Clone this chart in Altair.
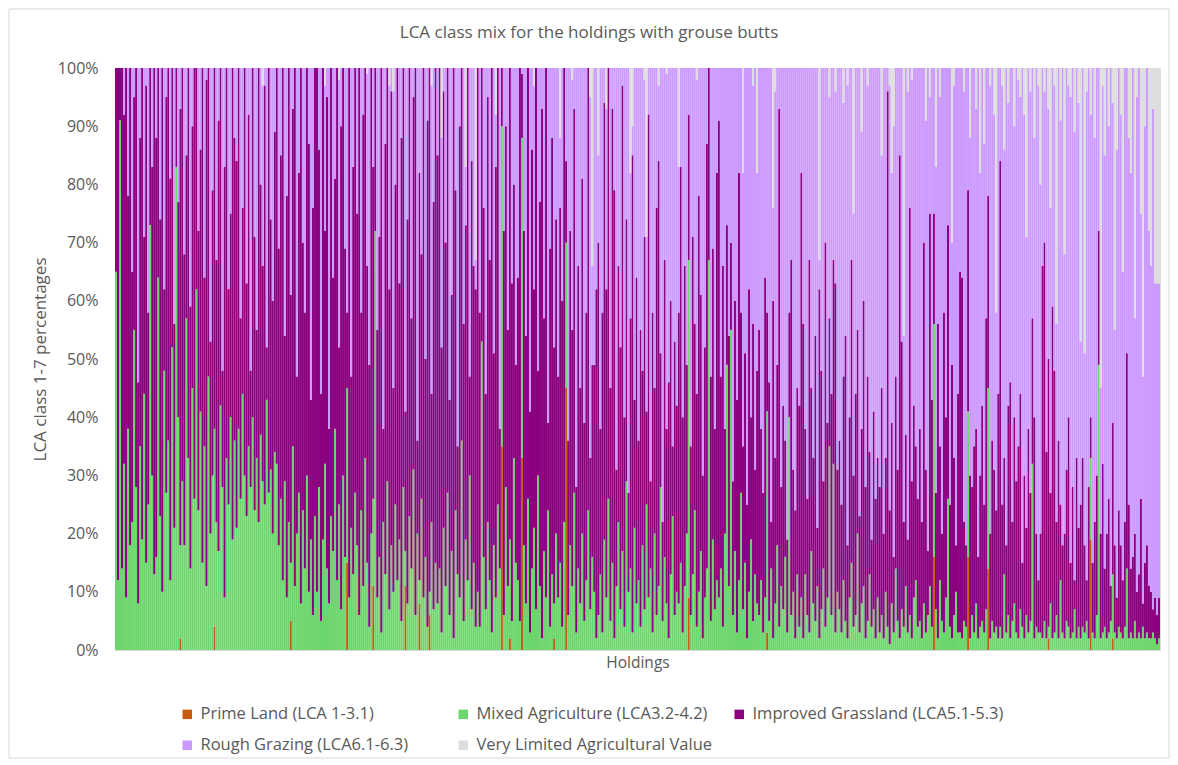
import altair as alt
import pandas as pd

classes = [
    "Prime Land (LCA 1-3.1)",
    "Mixed Agriculture (LCA3.2-4.2)",
    "Improved Grassland (LCA5.1-5.3)",
    "Rough Grazing (LCA6.1-6.3)",
    "Very Limited Agricultural Value",
]
colors = ["#C55A11", "#6CD66C", "#8B007F", "#CC99FF", "#DDDDDD"]
title_text = "LCA class mix for the holdings with grouse butts"

# cumulative top (in %) of Prime+Mixed (green band top), one value per holding
mixed_top = [
    65, 12, 91, 14, 32, 9, 38, 18, 22, 55, 28, 8, 35, 19, 44, 15, 25, 73, 30, 13,
    16, 64, 23, 10, 48, 27, 36, 12, 52, 21, 83, 40, 18, 29, 18, 57, 33, 14, 45, 26,
    62, 24, 41, 15, 35, 11, 47, 20, 30, 38, 22, 17, 42, 28, 9, 33, 25, 40, 19, 36,
    21, 38, 26, 44, 30, 23, 35, 28, 40, 24, 33, 22, 37, 29, 25, 43, 27, 31, 20, 34,
    32, 18, 26, 12, 29, 9, 22, 15, 35, 11, 20, 27, 8, 24, 14, 30, 10, 19, 6, 23,
    10, 28, 5, 19, 32, 14, 8, 23, 17, 38, 12, 25, 7, 30, 16, 45, 9, 21, 13, 27,
    18, 6, 24, 11, 33, 15, 4, 20, 26, 72, 9, 16, 3, 22, 13, 29, 7, 18, 10, 25,
    12, 19, 5, 28, 17, 8, 23, 14, 31, 6, 20, 12, 26, 9, 16, 4, 10, 22, 7, 15,
    8, 14, 3, 21, 11, 27, 6, 17, 2, 24, 13, 9, 36, 5, 19, 12, 30, 7, 15, 4,
    10, 4, 53, 16, 7, 22, 12, 3, 18, 9, 25, 14, 90, 6, 28, 11, 19, 5, 33, 15,
    12, 5, 88, 18, 8, 26, 3, 14, 21, 7, 30, 11, 2, 17, 9, 24, 4, 13, 8, 20,
    9, 15, 4, 22, 70, 6, 18, 11, 27, 3, 14, 8, 20, 5, 12, 24, 7, 16, 10, 2,
    6, 13, 3, 19, 9, 26, 5, 15, 2, 11, 22, 7, 17, 4, 29, 10, 14, 3, 21, 8,
    12, 4, 18, 7, 25, 9, 14, 3, 20, 6, 11, 28, 5, 16, 8, 2, 13, 23, 6, 10,
    8, 15, 3, 11, 20, 67, 6, 13, 24, 4, 10, 17, 2, 9, 14, 67, 5, 19, 7, 12,
    9, 14, 4, 20, 49, 11, 55, 6, 17, 3, 12, 27, 7, 15, 2, 10, 19, 5, 13, 8,
    6, 12, 3, 9, 41, 5, 14, 2, 8, 18, 4, 11, 7, 16, 3, 40, 6, 10, 2, 13,
    4, 9, 2, 13, 6, 3, 17, 8, 5, 11, 2, 7, 14, 4, 9, 35, 6, 32, 3, 10,
    7, 3, 12, 5, 2, 9, 15, 4, 6, 20, 3, 8, 11, 2, 5, 13, 4, 7, 2, 9,
    3, 6, 2, 10, 4, 1, 8, 3, 14, 5, 2, 7, 4, 11, 3, 6, 2, 9, 12, 4,
    5, 2, 8, 3, 6, 11, 4, 56, 7, 2, 12, 5, 3, 9, 26, 4, 2, 6, 10, 3,
    3, 2, 5, 4, 41, 2, 6, 3, 8, 2, 4, 5, 3, 7, 45, 2, 5, 3, 4, 2,
    4, 2, 13, 3, 6, 2, 5, 8, 3, 2, 7, 4, 2, 6, 3, 5, 32, 2, 4, 3,
    3, 2, 5, 2, 4, 8, 2, 3, 6, 2, 12, 3, 2, 5, 4, 2, 3, 7, 2, 4,
    2, 4, 3, 5, 2, 33, 3, 2, 6, 49, 2, 3, 4, 2, 3, 5, 13, 3, 2, 4,
    3, 2, 4, 14, 2, 3, 2, 5, 2, 3, 2, 4, 2, 3, 2, 2, 3, 2, 1, 2,
]

# cumulative top (in %) of Improved Grassland (purple band top)
improved_top = [
    100, 100, 100, 100, 92, 100, 78, 100, 65, 95, 100, 46, 88, 100, 71, 97, 58, 100, 83, 100,
    88, 100, 74, 100, 62, 95, 100, 81, 100, 56, 100, 77, 93, 100, 68, 85, 100, 59, 90, 100,
    100, 72, 86, 100, 64, 98, 100, 53, 79, 100, 67, 91, 100, 48, 83, 100, 62, 75, 100, 88,
    84, 100, 57, 76, 100, 63, 92, 48, 100, 71, 55, 100, 80, 66, 97, 52, 100, 74, 60, 89,
    100, 69, 85, 100, 54, 78, 100, 61, 93, 100, 47, 82, 100, 70, 58, 100, 87, 43, 76, 100,
    100, 86, 44, 100, 72, 95, 38, 100, 64, 81, 100, 52, 90, 100, 69, 58, 100, 47, 83, 100,
    75, 100, 58, 92, 100, 66, 49, 100, 83, 100, 55, 71, 100, 38, 87, 100, 62, 96, 45, 80,
    100, 63, 88, 100, 41, 74, 100, 57, 95, 100, 36, 82, 68, 100, 50, 91, 100, 44, 77, 100,
    85, 100, 52, 96, 70, 100, 43, 61, 100, 79, 35, 90, 100, 56, 73, 100, 47, 84, 66, 62,
    100, 58, 100, 76, 44, 95, 67, 100, 51, 83, 100, 38, 100, 72, 90, 55, 100, 63, 80, 49,
    64, 100, 99, 72, 54, 100, 41, 86, 62, 100, 48, 77, 93, 57, 100, 39, 69, 88, 52, 74,
    47, 76, 60, 100, 84, 36, 72, 55, 93, 28, 66, 45, 81, 39, 58, 100, 33, 49, 49, 62,
    70, 38, 58, 94, 62, 100, 45, 93, 79, 31, 66, 52, 97, 40, 74, 27, 57, 85, 43, 64,
    36, 55, 48, 71, 41, 92, 29, 58, 45, 76, 84, 51, 22, 67, 38, 46, 60, 35, 53, 42,
    58, 83, 40, 66, 49, 92, 35, 71, 56, 44, 78, 61, 30, 52, 87, 100, 47, 69, 38, 82,
    91, 47, 66, 38, 73, 54, 70, 29, 60, 43, 82, 58, 35, 51, 25, 62, 40, 56, 31, 48,
    55, 38, 27, 64, 58, 46, 22, 60, 33, 49, 93, 28, 42, 36, 19, 58, 67, 31, 24, 45,
    42, 82, 56, 38, 26, 67, 45, 33, 54, 21, 62, 48, 29, 70, 39, 57, 44, 67, 63, 31,
    36, 25, 47, 54, 18, 40, 67, 30, 44, 55, 23, 38, 60, 28, 47, 34, 19, 41, 26, 33,
    28, 45, 20, 33, 96, 24, 39, 16, 47, 31, 85, 53, 22, 37, 19, 76, 29, 42, 35, 26,
    38, 22, 70, 31, 17, 75, 43, 75, 27, 56, 35, 20, 58, 40, 73, 25, 49, 33, 18, 44,
    65, 64, 22, 18, 79, 30, 28, 35, 38, 16, 30, 42, 25, 57, 78, 20, 36, 31, 24, 44,
    84, 25, 33, 18, 42, 46, 22, 40, 29, 35, 44, 15, 30, 21, 38, 27, 57, 40, 20, 12,
    20, 66, 70, 34, 50, 27, 59, 48, 22, 36, 25, 18, 20, 31, 40, 15, 28, 12, 33, 21,
    25, 33, 18, 12, 28, 40, 15, 22, 30, 72, 20, 32, 14, 20, 26, 11, 39, 18, 9, 24,
    18, 12, 22, 51, 25, 14, 16, 20, 10, 13, 26, 8, 15, 18, 11, 10, 7, 9, 6, 9,
]

# cumulative top (in %) of Rough Grazing (lavender band top); the rest is Very Limited
rough_top = [
    100, 100, 100, 100, 100, 100, 100, 100, 100, 100, 100, 100, 100, 100, 100, 100, 100, 100, 100, 100,
    100, 100, 100, 100, 100, 100, 100, 100, 100, 100, 100, 100, 100, 100, 100, 100, 100, 100, 100, 100,
    100, 100, 100, 100, 100, 100, 100, 100, 100, 100, 100, 100, 100, 100, 100, 100, 100, 100, 100, 100,
    100, 100, 100, 100, 100, 100, 100, 100, 100, 100, 100, 100, 100, 97, 100, 100, 100, 100, 100, 100,
    100, 100, 100, 100, 100, 100, 100, 100, 100, 100, 100, 100, 100, 100, 100, 100, 100, 100, 100, 100,
    100, 100, 100, 100, 97, 100, 100, 100, 100, 100, 100, 98, 100, 100, 100, 100, 100, 100, 100, 100,
    100, 100, 100, 100, 100, 99, 100, 100, 100, 100, 100, 100, 100, 100, 100, 100, 97, 100, 96, 100,
    100, 100, 100, 100, 100, 100, 100, 100, 100, 100, 100, 100, 100, 100, 100, 100, 100, 97, 100, 100,
    100, 100, 88, 100, 100, 100, 100, 100, 100, 100, 100, 100, 100, 100, 83, 100, 100, 100, 100, 67,
    100, 100, 100, 100, 100, 100, 100, 100, 100, 92, 100, 100, 100, 100, 100, 100, 100, 100, 100, 100,
    100, 100, 100, 100, 100, 100, 100, 100, 97, 100, 100, 100, 100, 100, 100, 100, 100, 100, 100, 100,
    100, 88, 100, 100, 100, 100, 100, 98, 100, 100, 100, 100, 100, 100, 100, 100, 95, 66, 100, 100,
    85, 100, 100, 100, 93, 100, 100, 100, 100, 100, 100, 100, 100, 100, 100, 100, 82, 90, 100, 100,
    100, 100, 100, 98, 71, 100, 100, 100, 100, 100, 97, 100, 100, 100, 99, 100, 100, 100, 100, 100,
    83, 100, 100, 100, 100, 100, 100, 100, 100, 98, 100, 100, 100, 100, 100, 100, 100, 100, 100, 100,
    100, 100, 100, 100, 100, 100, 100, 100, 100, 100, 100, 100, 82, 100, 100, 100, 100, 97, 100, 82,
    100, 100, 100, 100, 100, 100, 100, 76, 96, 100, 100, 100, 100, 100, 100, 100, 100, 100, 100, 100,
    100, 100, 100, 100, 100, 100, 100, 100, 100, 100, 67, 100, 100, 100, 100, 95, 100, 100, 96, 100,
    100, 100, 94, 100, 97, 100, 100, 75, 100, 100, 100, 89, 100, 100, 97, 100, 100, 100, 100, 100,
    100, 85, 100, 100, 100, 97, 82, 90, 100, 100, 100, 100, 54, 100, 96, 100, 98, 100, 100, 100,
    100, 100, 100, 91, 100, 95, 100, 100, 83, 100, 95, 100, 100, 100, 100, 100, 70, 97, 100, 100,
    100, 100, 96, 100, 100, 88, 100, 100, 93, 100, 82, 100, 87, 100, 100, 97, 100, 92, 58, 100,
    100, 97, 86, 100, 94, 100, 100, 90, 100, 98, 95, 100, 92, 71, 100, 96, 100, 88, 100, 97,
    80, 100, 96, 100, 93, 76, 100, 97, 56, 100, 91, 100, 68, 100, 97, 95, 100, 89, 100, 94,
    53, 100, 51, 96, 100, 92, 100, 88, 100, 100, 45, 97, 85, 100, 90, 100, 94, 55, 86, 100,
    92, 65, 100, 100, 88, 82, 100, 57, 95, 100, 75, 47, 90, 100, 72, 66, 93, 63, 63, 63,
]

# Prime Land (bottom band) - only a few holdings have any
prime_holding = [32, 49, 87, 115, 128, 144, 151, 156, 192, 196, 202, 218, 224, 285, 324, 407, 424, 434, 464, 485, 496]
prime_pct = [2, 4, 5, 15, 11, 11, 8, 6, 35, 2, 33, 2, 45, 9, 3, 16, 16, 14, 2, 19, 2]

N = len(mixed_top)
assert len(improved_top) == N and len(rough_top) == N, (len(mixed_top), len(improved_top), len(rough_top))
prime = [0] * N
for h, v in zip(prime_holding, prime_pct):
    prime[h] = v

rows = []
for i in range(N):
    bounds = [0, prime[i], mixed_top[i], improved_top[i], rough_top[i], 100]
    for k in range(5):
        lo, hi = bounds[k], bounds[k + 1]
        assert hi >= lo, (i, k, bounds)
        if hi > lo:
            rows.append({"holding": i + 1, "cls": classes[k], "k": k, "lo": lo / 100, "hi": hi / 100})
df = pd.DataFrame(rows)

FONT = "Open Sans"
TXT = "#595959"
W, H = 1045, 582

# legend is filled column by column: order entries so rows read like the reference
legend_order = [classes[0], classes[3], classes[1], classes[4], classes[2]]

bars = alt.Chart(df).mark_bar(strokeWidth=0).encode(
    x=alt.X(
        "holding:O",
        scale=alt.Scale(paddingInner=0, paddingOuter=0),
        axis=alt.Axis(labels=False, ticks=False, domain=True, domainColor="#D9D9D9",
                      title="Holdings", titleFont=FONT, titleFontSize=15.5, titleFontWeight="normal",
                      titleColor=TXT, titlePadding=5),
    ),
    y=alt.Y(
        "lo:Q",
        scale=alt.Scale(domain=[0, 1], nice=False),
        axis=alt.Axis(format=".0%", values=[i / 10 for i in range(11)], grid=False, ticks=False,
                      domain=False, labelFont=FONT, labelFontSize=16, labelColor=TXT, labelPadding=17,
                      title="LCA class 1-7 percentages", titleFont=FONT, titleFontSize=17,
                      titleFontWeight="normal", titleColor=TXT, titleX=-75, titleY=H / 2,
                      titleAlign="center", titleBaseline="middle", titleAngle=-90),
    ),
    y2="hi:Q",
    color=alt.Color(
        "cls:N",
        scale=alt.Scale(domain=classes, range=colors),
        legend=alt.Legend(title=None, orient="none", legendX=64, legendY=638, columns=3,
                          values=legend_order, gridAlign="all", columnPadding=3, rowPadding=14,
                          symbolType="square", symbolSize=90, symbolStrokeWidth=0, labelFont=FONT,
                          labelFontSize=16.5, labelColor=TXT, labelOffset=5, labelLimit=0, padding=0),
    ),
    order=alt.Order("k:Q"),
)

frame = alt.Chart(pd.DataFrame({"z": [0]})).mark_rect(
    fill="white", fillOpacity=0, stroke="#D9D9D9", strokeWidth=1
).encode(x=alt.value(-106), x2=alt.value(1054), y=alt.value(-59), y2=alt.value(690))

title = alt.Chart(pd.DataFrame({"t": [title_text]})).mark_text(
    font=FONT, fontSize=17, color=TXT, align="center", baseline="middle"
).encode(text="t:N", x=alt.value(474), y=alt.value(-35))

chart = alt.layer(frame, bars, title).properties(
    width=W,
    height=H,
    autosize=alt.AutoSizeParams(type="none"),
    padding={"left": 107, "top": 60, "right": 10, "bottom": 112},
).configure_view(strokeWidth=0).configure(background="white")

chart.save("out.html", embed_options={"renderer": "svg", "actions": False})
